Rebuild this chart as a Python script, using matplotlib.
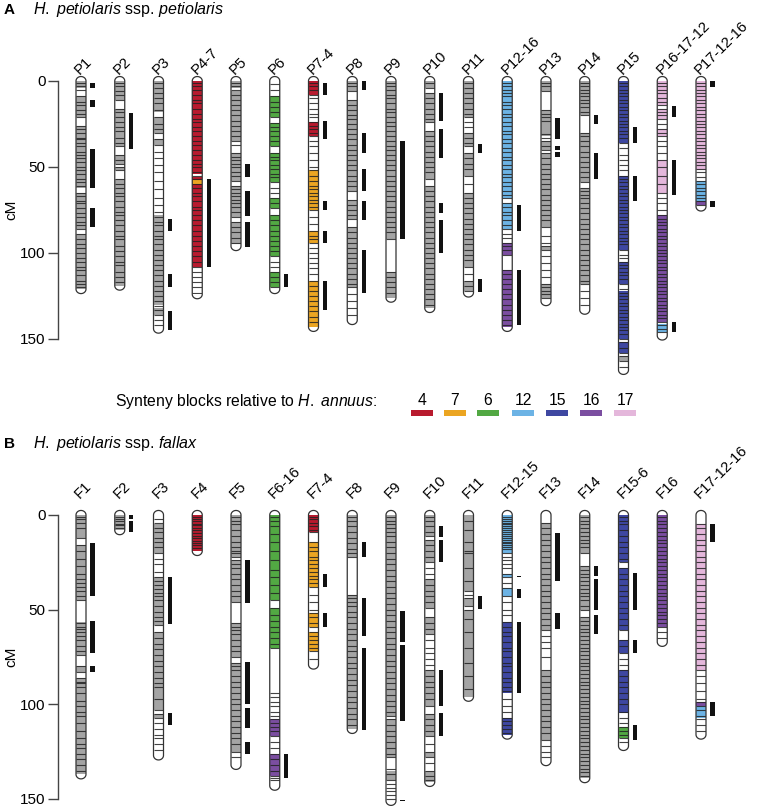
import matplotlib
matplotlib.use("Agg")
import matplotlib.pyplot as plt
from matplotlib.path import Path
from matplotlib.patches import PathPatch
import numpy as np

plt.rcParams['font.family'] = ['Liberation Sans', 'DejaVu Sans']
plt.rcParams['mathtext.fontset'] = 'custom'
plt.rcParams['mathtext.rm'] = 'Liberation Sans'
plt.rcParams['mathtext.it'] = 'Liberation Sans:italic'

# ---- panel A : H. petiolaris ssp. petiolaris ----
a_names = ["P1", "P2", "P3", "P4-7", "P5", "P6", "P7-4", "P8", "P9", "P10", "P11",
           "P12-16", "P13", "P14", "P15", "P16-17-12", "P17-12-16"]
a_lengths = [121, 119, 144, 124, 96, 121, 143, 139, 126, 132, 123, 143, 128, 133, 168, 148, 73]
a_blocks = [
    [(0, 4, 'g'), (9, 21, 'g'), (26, 62, 'g'), (65, 86, 'g'), (89, 121, 'g')],
    [(0, 11, 'g'), (16, 38, 'g'), (43, 48, 'g'), (50, 52, 'g'), (57, 119, 'g')],
    [(0, 18, 'g'), (21, 30, 'g'), (34, 37, 'g'), (78, 130, 'g'), (132, 136, 'g')],
    [(0, 54, 4), (56, 57.5, 4), (57.5, 60, 7), (60, 108, 4)],
    [(0, 4, 'g'), (6, 35, 'g'), (42, 58, 'g'), (61, 79, 'g'), (82, 95, 'g')],
    [(9, 21, 6), (24.5, 38, 6), (42, 59, 6), (68, 74, 6), (78, 102, 6), (111, 120, 6)],
    [(0, 8, 4), (24, 32, 4), (52, 75, 7), (87, 94, 7), (116, 143, 7)],
    [(0, 6, 'g'), (11, 64, 'g'), (69, 80, 'g'), (85, 120, 'g')],
    [(0, 92, 'g'), (111, 126, 'g')],
    [(0, 4, 'g'), (7, 24, 'g'), (29, 57, 'g'), (61, 132, 'g')],
    [(0, 21, 'g'), (30, 38, 'g'), (42, 55, 'g'), (65, 108, 'g'), (116, 122, 'g')],
    [(0, 68, 12), (71, 86, 12), (94, 101, 16), (110, 143, 16)],
    [(0, 6, 'g'), (17, 32, 'g'), (35, 40, 'g'), (42, 85, 'g'), (96, 98, 'g'), (118, 126, 'g')],
    [(0, 20, 'g'), (30, 59, 'g'), (62, 118, 'g')],
    [(0, 36, 15), (55, 98, 15), (105, 118, 15), (122, 150, 15), (152, 158, 15), (160, 163, 'g')],
    [(0, 14, 17), (16, 22, 17), (28, 32, 17), (46, 65, 17), (78, 140, 16), (141, 146, 12)],
    [(0, 52, 17), (58, 70, 12), (70, 72, 16)],
]
a_marks = [
    [1, 3, 5, 9, 12, 14, 17, 19, 21, 26, 28, 30, 33, 34, 36, 38, 41, 43, 45, 47, 50, 52, 54, 57, 59, 61, 65, 67, 70, 71, 74, 77, 79, 82, 84, 86, 89, 92, 95, 97, 100, 103, 105, 108, 110, 113, 116, 118, 120],
    [1, 3, 6, 8, 11, 16, 18, 21, 24, 27, 29, 33, 36, 38, 43, 46, 48, 50, 52, 57, 60, 62, 65, 67, 70, 73, 76, 78, 81, 84, 87, 90, 92, 96, 99, 102, 105, 107, 111, 114, 117],
    [1, 4, 7, 10, 13, 17, 21, 25, 28, 30, 34, 37, 41, 45, 49, 53, 58, 63, 68, 72, 76, 79, 82, 84, 87, 90, 92, 95, 98, 101, 104, 107, 110, 113, 116, 119, 122, 125, 128, 131, 133, 136, 139, 142],
    [1, 3, 5, 8, 11, 13, 16, 19, 22, 24, 27, 29, 32, 35, 37, 40, 43, 46, 48, 50, 53, 55, 57, 60, 62, 65, 67, 70, 73, 75, 78, 81, 84, 87, 90, 93, 96, 99, 102, 105, 108, 111, 114, 117, 120, 123],
    [1, 3, 5, 8, 11, 14, 17, 20, 23, 26, 29, 32, 35, 37, 42, 44, 46, 48, 50, 53, 55, 58, 61, 63, 65, 67, 69, 71, 73, 76, 79, 82, 85, 88, 91, 94],
    [2, 5, 9, 12, 15, 18, 21, 24.5, 27, 29, 32, 35, 38, 42, 44, 46, 49, 51, 54, 56, 59, 62, 65, 68, 71, 74, 78, 81, 84, 87, 90, 93, 96, 99, 102, 105, 108, 111, 114, 117, 120],
    [1, 3, 5, 8, 10, 13, 16, 19, 21, 24, 26, 28, 30, 32, 35, 38, 42, 46, 50, 52, 55, 58, 61, 63, 65, 67, 69, 71, 73, 75, 79, 83, 87, 90, 92, 94, 97, 100, 103, 106, 109, 112, 116, 119, 122, 125, 128, 131, 134, 137, 140],
    [1, 3, 6, 11, 14, 17, 20, 22, 25, 28, 31, 34, 37, 40, 43, 46, 49, 52, 55, 58, 61, 64, 69, 72, 75, 78, 80, 85, 88, 91, 94, 97, 100, 103, 106, 109, 112, 115, 118, 120, 124, 128, 132, 136],
    [1, 3, 5, 8, 10, 13, 16, 18, 21, 24, 26, 29, 32, 35, 38, 40, 43, 46, 49, 52, 55, 58, 61, 64, 67, 70, 73, 76, 79, 82, 85, 88, 92, 111, 114, 117, 120, 123],
    [1, 4, 7, 10, 13, 16, 19, 22, 24, 29, 32, 35, 38, 41, 44, 47, 50, 53, 57, 61, 64, 67, 70, 73, 76, 79, 82, 85, 88, 91, 94, 97, 100, 103, 106, 109, 112, 115, 118, 121, 124, 127, 130],
    [1, 4, 7, 10, 13, 16, 19, 21, 24, 27, 30, 33, 36, 38, 42, 45, 48, 51, 55, 60, 65, 68, 71, 74, 77, 80, 83, 86, 89, 92, 95, 98, 101, 104, 108, 112, 116, 119, 122],
    [1, 3, 5, 7, 9, 12, 14, 16, 19, 21, 24, 26, 29, 31, 34, 36, 39, 41, 44, 46, 49, 51, 54, 56, 59, 61, 64, 66, 68, 71, 73, 76, 78, 81, 84, 86, 89, 91, 94, 96, 98, 101, 110, 112, 115, 118, 121, 124, 127, 130, 133, 136, 139, 142],
    [1, 3, 6, 17, 19, 21, 23, 31, 33, 35, 38, 40, 42, 45, 48, 51, 54, 57, 60, 63, 66, 69, 72, 75, 78, 81, 85, 90, 94, 96, 98, 102, 106, 110, 114, 118, 120, 122, 124, 126],
    [1, 3, 5, 7, 9, 11, 13, 15, 18, 20, 30, 32, 35, 38, 41, 44, 47, 50, 53, 56, 59, 62, 64, 66, 68, 71, 74, 77, 80, 83, 86, 89, 92, 95, 98, 101, 104, 107, 110, 113, 116, 118, 122, 126, 130],
    [1, 3, 5, 7, 9, 11, 13, 15, 17, 19, 21, 23, 25, 27, 29, 31, 33, 36, 39, 43, 46, 49, 52, 55, 57, 59, 61, 63, 65, 67, 69, 71, 73, 75, 77, 79, 81, 83, 85, 87, 89, 91, 93, 95, 98, 101, 103, 105, 107, 109, 111, 113, 115, 118, 121, 123, 125, 127, 129, 131, 133, 135, 137, 139, 141, 143, 145, 147, 150, 152, 155, 158, 160, 163, 166],
    [1, 3, 5, 7, 10, 12, 14, 16, 18, 20, 22, 25, 28, 30, 32, 35, 38, 42, 46, 50, 55, 60, 65, 68, 71, 75, 78, 80, 82, 84, 86, 88, 90, 92, 94, 96, 98, 100, 102, 104, 106, 108, 110, 112, 114, 116, 118, 120, 122, 124, 126, 128, 130, 132, 134, 136, 138, 140, 142, 144, 146],
    [1, 3, 5, 7, 9, 11, 13, 15, 17, 19, 21, 23, 25, 27, 29, 31, 33, 35, 37, 39, 41, 43, 45, 47, 49, 51, 53, 56, 58, 60, 62, 64, 66, 68, 70, 72],
]
a_bars = [
    [(1, 4), (11, 15), (39.5, 62), (74, 85)],
    [(18.6, 39.5)],
    [(80, 87), (112, 120), (134, 145)],
    [(57, 108)],
    [(48, 56), (64, 78.5), (82, 96.5)],
    [(112, 120)],
    [(1, 8), (23, 34), (70, 75), (87, 94), (116, 133)],
    [(0, 5), (30, 42), (51, 64), (70, 81), (98, 123)],
    [(35, 92)],
    [(7, 23), (28, 45), (71, 77), (81, 100)],
    [(36.6, 42), (115, 122.6)],
    [(72, 87), (110, 142)],
    [(21.5, 34), (38, 40), (41, 44)],
    [(20, 25), (42, 57)],
    [(27, 36), (55, 70)],
    [(14.5, 21), (46, 66), (140, 146)],
    [(0, 3.5), (70, 73)],
]

# ---- panel B : H. petiolaris ssp. fallax ----
b_names = ["F1", "F2", "F3", "F4", "F5", "F6-16", "F7-4", "F8", "F9", "F10", "F11",
           "F12-15", "F13", "F14", "F15-6", "F16", "F17-12-16"]
b_lengths = [137, 8, 127, 19, 132, 143, 79, 113, 151, 141, 96, 116, 130, 139, 122, 67, 116]
b_blocks = [
    [(0, 12, 'g'), (16, 45, 'g'), (56.5, 74, 'g'), (80, 83, 'g'), (86, 137, 'g')],
    [(0, 8, 'g')],
    [(5, 20, 'g'), (33, 58, 'g'), (62, 103, 'g'), (105, 107, 'g')],
    [(0, 19, 4)],
    [(0, 22, 'g'), (24, 46, 'g'), (57, 75, 'g'), (78, 125, 'g')],
    [(0, 45, 6), (49, 70, 6), (108, 117, 16), (126, 138, 16)],
    [(0, 9, 4), (14, 38, 7), (52, 59, 7), (62, 72, 7)],
    [(0, 22, 'g'), (42, 113, 'g')],
    [(0, 106, 'g'), (108, 128, 'g'), (135, 140, 'g')],
    [(0, 11, 'g'), (13, 25, 'g'), (34, 49, 'g'), (54, 63, 'g'), (82, 101, 'g'), (105, 117, 'g'), (125, 128, 'g'), (135, 141, 'g')],
    [(0, 40, 'g'), (44, 48, 'g'), (50, 96, 'g')],
    [(0, 20, 12), (31, 33, 12), (38.6, 43, 12), (56.5, 94, 15), (107, 116, 15)],
    [(4, 61, 'g'), (82, 119, 'g')],
    [(0, 20, 'g'), (27, 50, 'g'), (54, 139, 'g')],
    [(0, 25, 15), (28, 61, 15), (66, 73, 15), (82, 104.6, 15), (112, 118, 6)],
    [(0, 59, 16)],
    [(5, 82, 17), (99, 101, 16), (101, 107, 12)],
]
b_marks = [
    [1, 2, 4, 7, 12, 16, 19, 23, 27, 31, 34, 36, 38, 40, 43, 45, 57, 59, 60, 62, 64, 66, 69, 72, 74, 80, 83, 86, 88, 89, 91, 94, 98, 101, 104, 106, 110, 114, 118, 121, 123, 126, 129, 132, 135],
    [1, 2, 3, 4.5, 5.5, 7],
    [2, 4, 7, 9, 12, 14, 17, 20, 23, 26, 30, 33, 35, 37, 39, 41, 43, 45, 48, 51, 54, 56, 58, 62, 65, 68, 71, 74, 77, 80, 83, 86, 89, 91, 97, 103, 105, 107, 110, 113, 116, 118, 121, 124],
    [1, 2, 3, 4.5, 5.5, 7, 8, 9.5, 11, 12, 13.5, 15, 16, 17.5],
    [1, 3, 5, 8, 11, 14, 17, 19, 20, 22, 24, 26, 28, 31, 34, 37, 40, 43, 46, 57, 59, 61, 63, 66, 69, 72, 75, 78, 80, 82, 85, 88, 91, 94, 97, 100, 103, 106, 109, 112, 115, 118, 121, 125, 128],
    [1, 3, 6, 10, 14, 19, 24, 29, 33, 37, 41, 45, 49, 53, 56, 59, 62, 65, 68, 70, 94, 96, 99, 101, 104, 106, 108, 110, 112, 114, 117, 120, 123, 126, 129, 132, 135, 138, 139, 140],
    [1, 2, 4, 6, 8, 9, 14, 17, 19, 22, 24, 26, 28, 30, 32, 34, 36, 38, 42, 46, 50, 52, 54, 57, 59, 62, 64, 66, 68, 70, 72, 76],
    [1, 3, 6, 9, 12, 15, 18, 20, 22, 42, 44, 46, 48, 51, 54, 57, 60, 63, 66, 69, 72, 75, 78, 81, 84, 87, 90, 93, 96, 99, 102, 105, 108, 111],
    [1, 3, 5, 7, 9, 11, 14, 17, 20, 23, 26, 29, 32, 35, 38, 41, 44, 47, 50, 53, 56, 59, 62, 65, 68, 71, 74, 77, 80, 83, 86, 89, 92, 95, 98, 101, 104, 106, 108, 111, 114, 117, 120, 123, 126, 128, 134, 137, 140, 142, 144, 146, 148, 150],
    [1, 3, 6, 9, 11, 13, 16, 19, 22, 25, 28, 31, 34, 37, 40, 43, 46, 49, 54, 57, 60, 63, 66, 70, 73, 76, 79, 82, 85, 88, 91, 94, 97, 101, 105, 108, 111, 114, 117, 121, 125, 128, 131, 135, 138, 140],
    [3, 8, 14, 19, 20, 28, 35, 40, 42, 44, 48, 50, 55, 62, 70, 78, 85, 92],
    [1, 2, 3, 4, 5, 6, 7, 8, 9, 10, 11, 12, 13, 14, 15, 16, 17, 18, 20, 22, 24, 26, 28, 31, 33, 36, 38.6, 43, 46, 50, 53, 56.5, 59, 62, 64, 67, 70, 72, 75, 78, 80, 83, 86, 88, 91, 93, 97, 101, 104, 107, 109, 111, 113, 115],
    [4, 7, 10, 13, 16, 19, 22, 25, 28, 31, 34, 37, 40, 43, 46, 49, 52, 55, 58, 61, 64, 67, 70, 75, 82, 85, 88, 91, 94, 97, 100, 103, 106, 109, 112, 115, 119, 122, 125, 128],
    [1, 3, 5, 7, 9, 11, 13, 15, 17, 20, 27, 29, 31, 33, 35, 37, 39, 41, 43, 45, 48, 50, 54, 56, 58, 60, 62, 64, 66, 68, 70, 72, 74, 76, 78, 80, 82, 84, 86, 88, 90, 92, 94, 96, 98, 100, 102, 104, 106, 108, 110, 112, 114, 116, 118, 120, 122, 124, 126, 128, 130, 132, 134, 136, 138],
    [1, 3, 5, 8, 11, 14, 17, 20, 23, 25, 28, 31, 34, 37, 40, 43, 46, 49, 52, 55, 58, 61, 66, 69, 73, 76, 79, 82, 85, 88, 91, 94, 97, 100, 104, 107, 110, 112, 114, 116, 118, 120],
    [1, 3, 5, 7, 9, 11, 13, 15, 17, 19, 21, 23, 25, 27, 29, 31, 33, 35, 37, 39, 41, 43, 45, 47, 49, 51, 53, 55, 57, 59, 62, 65],
    [5, 7, 10, 13, 16, 19, 22, 25, 28, 31, 34, 37, 40, 43, 46, 49, 52, 55, 58, 61, 64, 67, 70, 73, 76, 79, 82, 85, 89, 93, 97, 99, 101, 103, 106, 108, 111, 114],
]
b_bars = [
    [(15, 43), (56, 73), (80, 83)],
    [(0, 2), (3, 9)],
    [(33, 57.5), (104.6, 111)],
    [],
    [(24, 46.5), (77.6, 100), (102, 112.5), (120, 126)],
    [(126, 139)],
    [(31, 38), (52, 59)],
    [(14, 22), (44, 64), (70, 113.5)],
    [(50.5, 67), (68.7, 108.8), (150.3, 151.3)],
    [(6, 11.5), (13, 25), (82, 101), (104.6, 116.7)],
    [(43, 49.7)],
    [(32, 33), (39, 44), (56.5, 94)],
    [(9.5, 35), (52, 60)],
    [(27, 32), (34, 50), (53, 63)],
    [(30.6, 50), (66, 73), (111, 119)],
    [],
    [(4.8, 14), (99, 106)],
]

legend_keys = [4, 7, 6, 12, 15, 16, 17]
colors = {'g': '#a4a4a4', 4: '#b81a2e', 7: '#eba522', 6: '#52a843', 12: '#6cb3e5',
          15: '#3e47a1', 16: '#7b4ea0', 17: '#e4b7db'}

W, H = 757, 808
X0, DX = 81, 38.75          # pixel x of first chromosome and spacing
HW = 5.0 / DX               # chromosome half width
BAR_OFF, BAR_W = 11.5 / DX, 4.2 / DX

fig = plt.figure(figsize=(W / 100, H / 100), dpi=100)


def make_axes(top_px, bot_px, zero_px, ppc):
    ax = fig.add_axes([0, 1 - bot_px / H, 1, (bot_px - top_px) / H])
    ax.set_xlim(-X0 / DX, (W - X0) / DX)
    ax.set_ylim((bot_px - zero_px) / ppc, (top_px - zero_px) / ppc)
    ax.patch.set_visible(False)
    for s in ['top', 'right', 'bottom']:
        ax.spines[s].set_visible(False)
    ax.spines['left'].set_position(('data', (58 - X0) / DX))
    ax.spines['left'].set_bounds(0, 150)
    ax.spines['left'].set_color('#444444')
    ax.spines['left'].set_linewidth(1.0)
    ax.set_xticks([])
    ax.set_yticks([0, 50, 100, 150])
    ax.tick_params(axis='y', length=7, width=1.0, color='#444444', pad=2, labelsize=11)
    ax.text((11 - X0) / DX, 75, "cM", rotation=90, ha='center', va='center', fontsize=11)
    return ax


def chrom_path(x, L, cap):
    t = np.linspace(0, np.pi, 20)
    bottom = np.column_stack([x - HW * np.cos(t), L + cap * np.sin(t)])
    top = np.column_stack([x + HW * np.cos(t), -cap * np.sin(t)])
    verts = np.vstack([[x - HW, 0], bottom, top, [x - HW, 0]])
    return Path(verts, closed=True)


def draw_panel(ax, names, lengths, blocks, marks, bars, cap, lab_dy):
    for i, name in enumerate(names):
        L = lengths[i]
        body = PathPatch(chrom_path(i, L, cap), facecolor='white', edgecolor='none', zorder=1)
        ax.add_patch(body)
        clip = PathPatch(Path([[i - HW, 0], [i + HW, 0], [i + HW, L], [i - HW, L], [i - HW, 0]], closed=True),
                         facecolor='none', edgecolor='none')
        ax.add_patch(clip)
        for s, e, k in blocks[i]:
            bc = ax.bar(i, e - s, bottom=s, width=2 * HW, color=colors[k], linewidth=0, zorder=2)
            for r in bc:
                r.set_clip_path(clip)
        lc = ax.hlines(marks[i], i - HW, i + HW, color='#222222', linewidth=0.8, alpha=0.85, zorder=3)
        lc.set_clip_path(clip)
        ax.add_patch(PathPatch(chrom_path(i, L, cap), facecolor='none', edgecolor='#333333',
                               linewidth=0.9, zorder=4))
        for s, e in bars[i]:
            ax.bar(i + BAR_OFF, e - s, bottom=s, width=BAR_W, color='#111111', linewidth=0, zorder=2)
        ax.text(i + 0.03, lab_dy, name, rotation=45, rotation_mode='anchor',
                ha='left', va='bottom', fontsize=10.7)


def ftext(xp, yp, s, **kw):
    fig.text(xp / W, 1 - yp / H, s, **kw)


ax_a = make_axes(30, 430, 81, 1.72)
draw_panel(ax_a, a_names, a_lengths, a_blocks, a_marks, a_bars, 2.6, -2.0)
ax_b = make_axes(440, 808, 515, 1.893)
draw_panel(ax_b, b_names, b_lengths, b_blocks, b_marks, b_bars, 2.4, -7.5)

ftext(4, 14, "A", fontsize=11, fontweight='bold')
ftext(33, 14, r"$\it{H.\ petiolaris}$ ssp. $\it{petiolaris}$", fontsize=11.5)
ftext(4, 448, "B", fontsize=11, fontweight='bold')
ftext(33, 448, r"$\it{H.\ petiolaris}$ ssp. $\it{fallax}$", fontsize=11.5)

# legend of synteny blocks
ftext(115, 406, r"Synteny blocks relative to $\it{H.\ annuus}$:", fontsize=11.3)
leg_px = [422, 455, 488, 523, 557, 591, 625]
for xp, k in zip(leg_px, legend_keys):
    xi = (xp - X0) / DX
    ax_a.bar(xi, 6 / 1.72, bottom=(410 - 81) / 1.72, width=22 / DX, color=colors[k],
             linewidth=0, clip_on=False)
    ax_a.text(xi, (405 - 81) / 1.72, str(k), ha='center', va='baseline', fontsize=11.3)

fig.savefig("out.png", dpi=100)
